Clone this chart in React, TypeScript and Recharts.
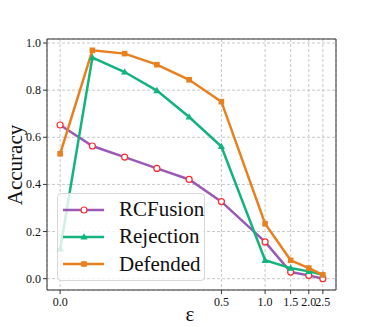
import { LineChart, Line, XAxis, YAxis, CartesianGrid, ReferenceArea } from "recharts";

const epsilons = [0, 0.1, 0.2, 0.3, 0.4, 0.5, 1.0, 1.5, 2.0, 2.5];
const rcfusion = [0.652, 0.563, 0.516, 0.468, 0.421, 0.327, 0.156, 0.028, 0.014, 0.0];
const rejection = [0.126, 0.938, 0.877, 0.798, 0.686, 0.561, 0.078, 0.045, 0.031, 0.017];
const defended = [0.53, 0.969, 0.955, 0.908, 0.844, 0.751, 0.233, 0.078, 0.045, 0.016];
const xTickValues = [0, 0.5, 1.0, 1.5, 2.0, 2.5];
const yTicks = [0, 0.2, 0.4, 0.6, 0.8, 1.0];

const PURPLE = "#9b59b6";
const GREEN = "#13b47c";
const ORANGE = "#e8801f";
const FONT = "Liberation Serif, DejaVu Serif, serif";

// matplotlib-style symlog (linthresh 0.5, base 10, linscale 1)
const LT = 0.5;
const ADJ = 1 / (1 - 1 / 10);
const symlog = (x: number) => (x <= LT ? x * ADJ : LT * (ADJ + Math.log10(x / LT)));
const inv = (t: number) => (t <= LT * ADJ ? t / ADJ : LT * Math.pow(10, t / LT - ADJ));

const data = epsilons.map((e, i) => ({
  pos: symlog(e),
  RCFusion: rcfusion[i],
  Rejection: rejection[i],
  Defended: defended[i],
}));

const xTicks = xTickValues.map(symlog);
const xMin = -0.05 * symlog(2.5);
const xMax = symlog(2.5) * 1.05;
const yMin = -0.048;
const yMax = 1.017;

const circleDot = (p: any) => (
  <circle key={`c${p.index}`} cx={p.cx} cy={p.cy} r={3} fill="#fff" stroke="#ff2a2a" strokeWidth={1.2} />
);
const triDot = (p: any) => (
  <polygon
    key={`t${p.index}`}
    points={`${p.cx},${p.cy - 3.8} ${p.cx - 3.6},${p.cy + 2.6} ${p.cx + 3.6},${p.cy + 2.6}`}
    fill={GREEN}
  />
);
const sqDot = (p: any) => (
  <rect key={`s${p.index}`} x={p.cx - 2.8} y={p.cy - 2.8} width={5.6} height={5.6} fill={ORANGE} />
);

const XTick = (p: any) => (
  <text x={p.x} y={p.y + 10} textAnchor="middle" fontFamily={FONT} fontSize={12} fill="#111">
    {inv(p.payload.value).toFixed(1)}
  </text>
);
const YTick = (p: any) => (
  <text x={p.x} y={p.y + 4} textAnchor="end" fontFamily={FONT} fontSize={12} fill="#111">
    {Number(p.payload.value).toFixed(1)}
  </text>
);

const legendItems = [
  { name: "RCFusion", color: PURPLE, marker: "circle" },
  { name: "Rejection", color: GREEN, marker: "tri" },
  { name: "Defended", color: ORANGE, marker: "sq" },
];

function LegendBox() {
  return (
    <div
      style={{
        position: "absolute",
        left: 57,
        top: 193,
        width: 148,
        height: 88,
        background: "rgba(255,255,255,0.8)",
        border: "1px solid #d8d8d8",
        borderRadius: 4,
        boxSizing: "border-box",
        paddingTop: 2,
      }}
    >
      {legendItems.map((it) => (
        <div key={it.name} style={{ display: "flex", alignItems: "center", height: 27.3 }}>
          <svg width={61} height={20} style={{ flex: "none" }}>
            <line x1={5} x2={46} y1={10} y2={10} stroke={it.color} strokeWidth={2.5} />
            {it.marker === "circle" && <circle cx={26} cy={10} r={3} fill="#fff" stroke="#ff2a2a" strokeWidth={1.2} />}
            {it.marker === "tri" && <polygon points="26,6.2 22.4,12.6 29.6,12.6" fill={it.color} />}
            {it.marker === "sq" && <rect x={23.2} y={7.2} width={5.6} height={5.6} fill={it.color} />}
          </svg>
          <span style={{ fontFamily: FONT, fontSize: 21, color: "#111", lineHeight: 1 }}>{it.name}</span>
        </div>
      ))}
    </div>
  );
}

export default function App() {
  return (
    <div style={{ position: "absolute", left: 0, top: 0, width: 374, height: 327, background: "#fff" }}>
      <LineChart width={374} height={327} data={data} margin={{ top: 39, right: 38, left: 7, bottom: 7 }}>
        <CartesianGrid stroke="#c8c8c8" strokeDasharray="3 2" />
        <XAxis
          type="number"
          dataKey="pos"
          domain={[xMin, xMax]}
          ticks={xTicks}
          interval={0}
          allowDataOverflow
          height={30}
          tick={XTick}
          tickSize={4}
          axisLine={false}
          tickLine={{ stroke: "#333" }}
          label={() => (
            <text x={190} y={321} textAnchor="middle" fontFamily={FONT} fontSize={21} fill="#111">
              ε
            </text>
          )}
        />
        <YAxis
          type="number"
          domain={[yMin, yMax]}
          ticks={yTicks}
          interval={0}
          allowDataOverflow
          width={40}
          tick={YTick}
          tickSize={4}
          axisLine={false}
          tickLine={{ stroke: "#333" }}
          label={() => (
            <text
              x={22}
              y={165}
              transform="rotate(-90 22 165)"
              textAnchor="middle"
              fontFamily={FONT}
              fontSize={21}
              fill="#111"
            >
              Accuracy
            </text>
          )}
        />
        <ReferenceArea x1={xMin} x2={xMax} y1={yMin} y2={yMax} fill="none" stroke="#333" strokeWidth={1} />
        <Line dataKey="RCFusion" stroke={PURPLE} strokeWidth={2.5} dot={circleDot} isAnimationActive={false} />
        <Line dataKey="Rejection" stroke={GREEN} strokeWidth={2.5} dot={triDot} isAnimationActive={false} />
        <Line dataKey="Defended" stroke={ORANGE} strokeWidth={2.5} dot={sqDot} isAnimationActive={false} />
      </LineChart>
      <LegendBox />
    </div>
  );
}
